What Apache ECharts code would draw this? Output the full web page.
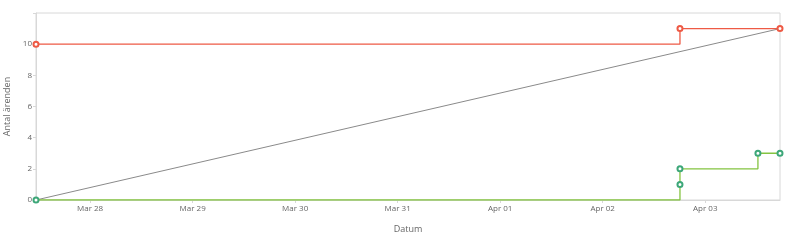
<!DOCTYPE html>
<html><head><meta charset="utf-8">
<script src="https://cdn.jsdelivr.net/npm/echarts@6/dist/echarts.min.js"></script>
<style>html,body{margin:0;padding:0;background:#fff}#c{width:800px;height:248px}</style>
</head><body><div id="c"></div>
<script>
const startTime = '2017-03-27 11:20';
const endTime = '2017-04-03 17:30';
const redData = [[startTime, 10], ['2017-04-02 18:05', 11], [endTime, 11]];
const greenData = [[startTime, 0], ['2017-04-02 18:05', 1], ['2017-04-02 18:05', 2], ['2017-04-03 12:20', 3], [endTime, 3]];
const greyData = [[startTime, 0], [endTime, 11]];
const yTicks = [0, 2, 4, 6, 8, 10];
const months = ['Jan','Feb','Mar','Apr','May','Jun','Jul','Aug','Sep','Oct','Nov','Dec'];

const chart = echarts.init(document.getElementById('c'));
const font = '"Open Sans", "Noto Sans", sans-serif';
chart.setOption({
  animation: false,
  grid: {left: 36, right: 20, top: 13, bottom: 48, show: true, borderColor: '#d8d8d8', borderWidth: 1,
    containLabel: false, outerBoundsMode: 'none'},
  xAxis: {
    type: 'time',
    min: startTime, max: endTime,
    minInterval: 86400000, maxInterval: 86400000,
    name: 'Datum', nameLocation: 'middle', nameGap: 25,
    nameTextStyle: {color: '#666', fontSize: 9, fontFamily: font},
    axisLine: {lineStyle: {color: '#d8d8d8'}},
    axisTick: {show: true, length: 3, lineStyle: {color: '#d8d8d8'}},
    splitLine: {show: false},
    axisLabel: {color: '#666', fontSize: 8, fontFamily: font, margin: 5,
      formatter: v => { const d = new Date(v); return months[d.getMonth()] + ' ' + String(d.getDate()).padStart(2, '0'); }}
  },
  yAxis: {
    type: 'value', min: 0, max: 12, interval: 2,
    name: 'Antal ärenden', nameLocation: 'middle', nameGap: 20,
    nameTextStyle: {color: '#666', fontSize: 9, fontFamily: font},
    axisLine: {show: true, lineStyle: {color: '#d8d8d8'}},
    axisTick: {show: true, length: 3, lineStyle: {color: '#d8d8d8'}},
    splitLine: {show: false},
    axisLabel: {color: '#666', fontSize: 8, fontFamily: font, margin: 4,
      formatter: v => yTicks.includes(v) ? String(v) : ''}
  },
  series: [
    {type: 'line', data: greyData, symbol: 'none', lineStyle: {color: '#8a8a8a', width: 1}, z: 1},
    {type: 'line', data: redData, step: 'end', symbol: 'emptyCircle', symbolSize: 5,
      lineStyle: {color: '#ee5a45', width: 1.3}, itemStyle: {color: '#ee5a45', borderWidth: 1.2}, z: 2},
    {type: 'line', data: greenData, step: 'end', symbol: 'emptyCircle', symbolSize: 5,
      lineStyle: {color: '#84c440', width: 1.3}, itemStyle: {color: '#3da779', borderWidth: 1.2}, z: 3}
  ]
});
</script></body></html>
